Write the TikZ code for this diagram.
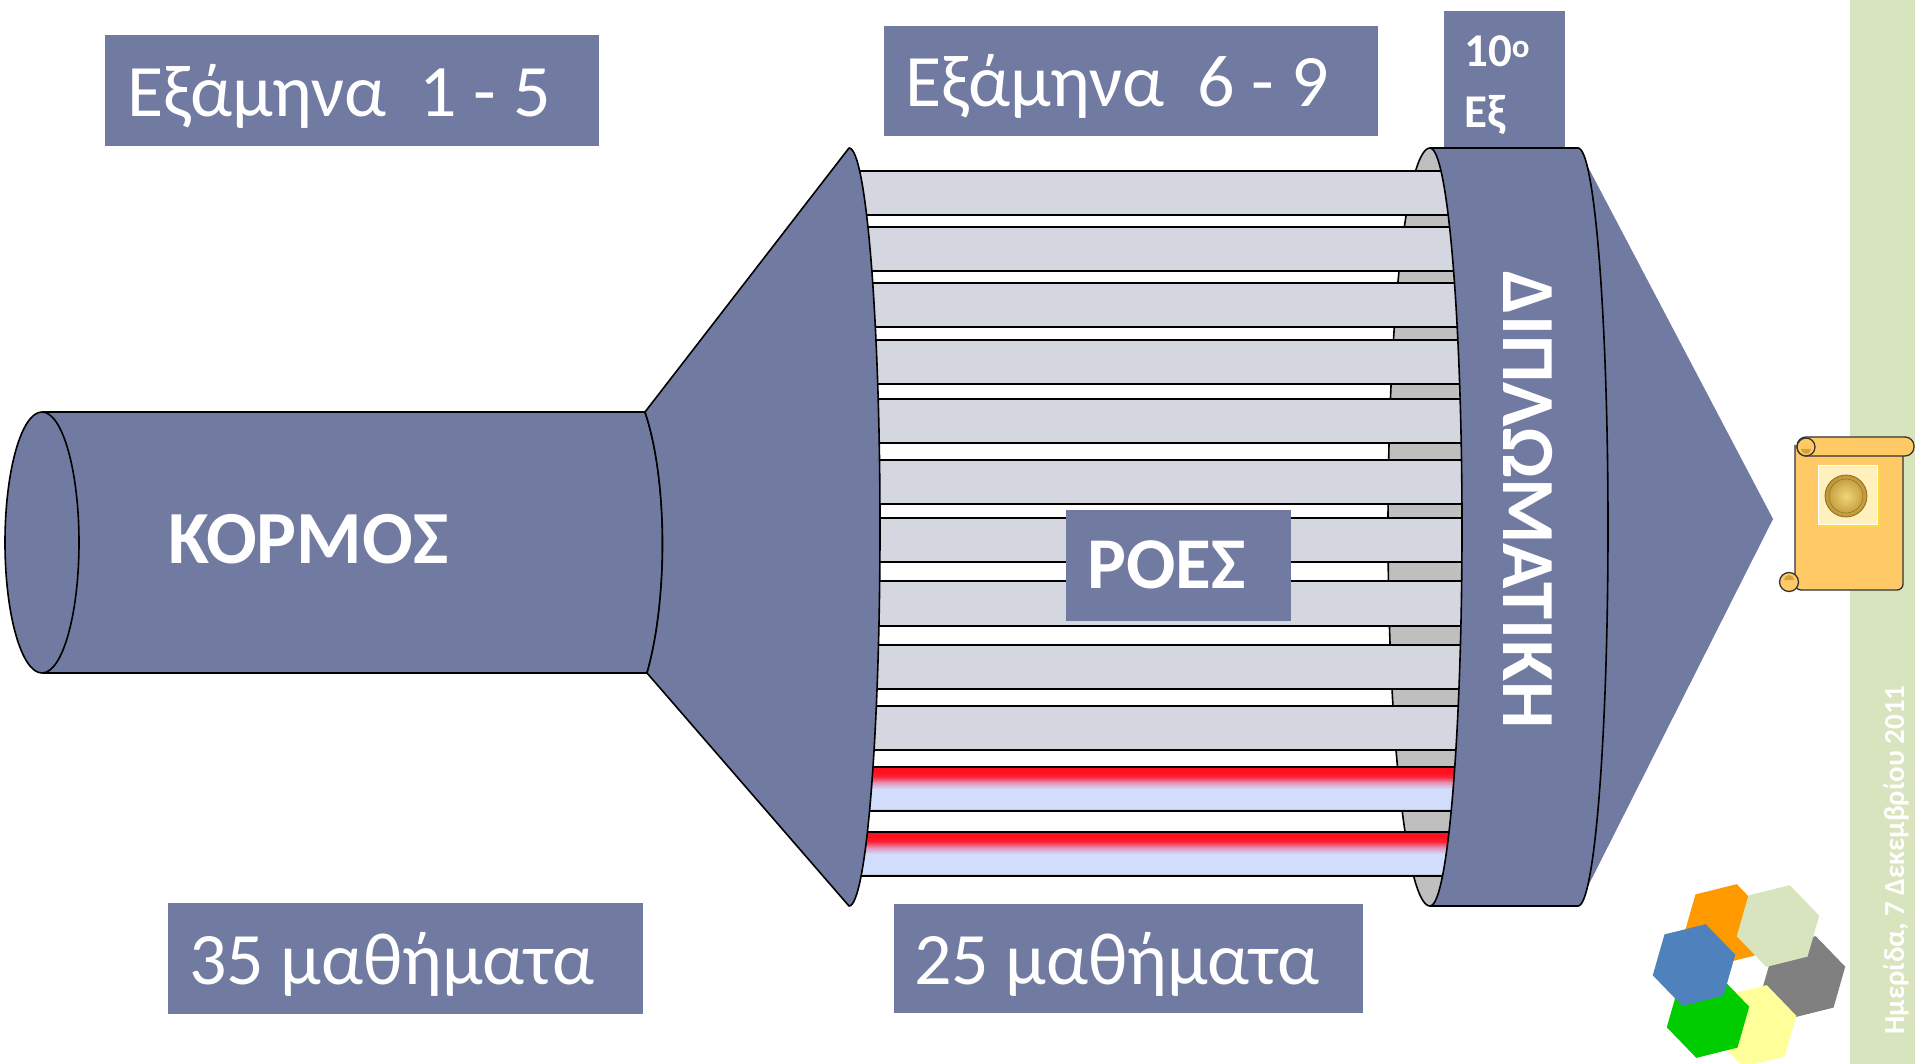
\documentclass[tikz,border=0pt]{standalone}
\usepackage{fontspec}
\setmainfont{Carlito}
\usetikzlibrary{shapes.geometric}

\definecolor{slate}{RGB}{113,122,161}
\definecolor{stripfill}{RGB}{212,215,224}
\definecolor{ringback}{RGB}{191,191,191}
\definecolor{sidebar}{RGB}{215,228,189}
\definecolor{scrollfill}{RGB}{255,201,102}
\definecolor{scrolldark}{RGB}{214,160,60}
\definecolor{coinpaper}{RGB}{255,240,190}
\definecolor{coinlight}{RGB}{240,214,120}
\definecolor{coindark}{RGB}{190,148,52}
\definecolor{hexorange}{RGB}{255,153,0}
\definecolor{hexlight}{RGB}{215,228,189}
\definecolor{hexblue}{RGB}{79,129,189}
\definecolor{hexgray}{RGB}{128,128,128}
\definecolor{hexgreen}{RGB}{0,204,0}
\definecolor{hexyellow}{RGB}{255,255,153}
\definecolor{flowred}{RGB}{255,16,32}
\definecolor{flowblue}{RGB}{209,221,250}
\definecolor{flowpink}{RGB}{226,150,188}
\definecolor{flowedge}{RGB}{168,182,186}

% red-to-blue shading of the two highlighted flows; TikZ fits the path into
% the middle band 25bp..75bp, so the stops are placed inside that band
\pgfdeclareverticalshading{redflow}{100bp}{color(0bp)=(flowedge); color(25bp)=(flowedge); color(28.5bp)=(flowblue); color(50bp)=(flowblue); color(57bp)=(flowpink); color(64bp)=(flowred!85!flowpink); color(69bp)=(flowred); color(100bp)=(flowred)}

\tikzset{
  outline/.style={draw=black, line width=1.6pt, line join=round},
  slateshape/.style={outline, fill=slate},
  flowstrip/.style={outline, fill=stripfill},
  redstrip/.style={outline, shading=redflow},
  labelbox/.style={fill=slate},
  plaintext/.style={text=white, inner sep=0pt, font=\fontsize{74}{88}\selectfont},
  boldtext/.style={text=white, inner sep=0pt, font=\bfseries\fontsize{73}{86}\selectfont},
  bigbold/.style={text=white, inner sep=0pt, font=\bfseries\fontsize{75}{88}\selectfont},
  smallbold/.style={text=white, inner sep=0pt, font=\bfseries\fontsize{47}{56}\selectfont},
  datetext/.style={text=white, inner sep=0pt, font=\bfseries\fontsize{29}{34}\selectfont},
  hexa/.style={regular polygon, regular polygon sides=6, minimum size=85pt, inner sep=0pt, rotate=14, draw=none},
  scrollline/.style={draw=black!80, line width=1.3pt, line join=round},
}

\begin{document}
\begin{tikzpicture}[x=1pt, y=-1pt]
\useasboundingbox (0,0) rectangle (1915,1064);
\fill[white] (0,0) rectangle (1915,1064);

% side bar
\fill[sidebar] (1850,0) rectangle (1915,1064);

% trunk cylinder
\draw[slateshape] (43,412) -- (645,412) .. controls (668,480) and (668,600) .. (647,673) -- (43,673) -- cycle;
\draw[slateshape] (42,542.5) ellipse[x radius=37, y radius=130.5];

% inner back rim of the diploma ring
\draw[outline, fill=ringback] (1430,527) ellipse[x radius=42, y radius=379];

% parallel flows
\foreach \t/\b in {171/215, 227/271, 283/327, 340/384, 399/443, 460/504, 518/562, 581/626, 645/689, 706/750} {
  \draw[flowstrip] (845,\t) rectangle (1480,\b);
}
\foreach \t/\b in {767/811, 832/876} {
  \draw[redstrip] (845,\t) rectangle (1480,\b);
}

% funnel widening from the trunk
\draw[slateshape] (645,412) -- (849,148) arc[start angle=-90, end angle=90, x radius=31, y radius=379]
  -- (647,673) .. controls (668,600) and (668,480) .. (645,412) -- cycle;

% arrow head and diploma ring
\fill[slate] (1578,148) -- (1773,519) -- (1578,906) -- cycle;
\draw[slateshape] (1430,148) -- (1578,148) arc[start angle=-90, end angle=90, x radius=30, y radius=379]
  -- (1430,906) arc[start angle=90, end angle=-90, x radius=32, y radius=379] -- cycle;

% labels
\fill[labelbox] (105,35) rectangle (599,146);
\node[plaintext, anchor=base west] (sem15) at (127,117) {Εξάμηνα\ \ 1 - 5};

\fill[labelbox] (884,26) rectangle (1378,136);
\node[plaintext, anchor=base west] (sem69) at (905,107) {Εξάμηνα\ \ 6 - 9};

\fill[labelbox] (1444,11) rectangle (1565,147);
\node[smallbold, anchor=base west] (sem10a) at (1464,67) {10\textsuperscript{ο}};
\node[smallbold, anchor=base west] (sem10b) at (1464,128) {Εξ};

\node[bigbold, anchor=base west] (kormos) at (168,563) {ΚΟΡΜΟΣ};

\fill[labelbox] (1066,510) rectangle (1291,621);
\node[boldtext, anchor=base west] (roes) at (1087,588) {ΡΟΕΣ};

\node[bigbold, rotate=-90] (diplo) at (1528,500) {ΔΙΠΛΩΜΑΤΙΚΗ};

\fill[labelbox] (168,903) rectangle (643,1014);
\node[plaintext, anchor=base west] (les35) at (189,984) {35 μαθήματα};

\fill[labelbox] (894,904) rectangle (1363,1013);
\node[plaintext, anchor=base west] (les25) at (914,984) {25 μαθήματα};

% diploma scroll
\draw[scrollline, fill=scrollfill, rounded corners=6] (1795,445) -- (1795,590) -- (1903,590) -- (1903,450);
\draw[scrollline, fill=scrollfill, rounded corners=9] (1797,437) rectangle (1914,456);
\draw[scrollline, fill=scrollfill] (1806,447) circle[radius=9];
\fill[scrolldark] (1801,449) arc[start angle=180, end angle=0, radius=5] -- cycle;
\draw[scrollline, fill=scrollfill] (1789,582) circle[radius=9.5];
\fill[scrolldark] (1784,580) arc[start angle=180, end angle=360, radius=5] -- cycle;
\fill[yellow!40!scrollfill] (1820,468) rectangle (1880,527);
\draw[white, line width=1pt, fill=coinpaper] (1818,466) rectangle (1877,524);
\shade[inner color=coinlight, outer color=coindark] (1846,496) circle[radius=21];
\draw[coindark!75!black, line width=0.8pt] (1846,496) circle[radius=21];
\draw[coindark!75!black, line width=0.5pt] (1846,496) circle[radius=17];

% hexagon logo
\node[hexa, fill=hexorange] (hexo) at (1725,925) {};
\node[hexa, fill=hexgray] (hexg) at (1804,977) {};
\node[hexa, fill=hexyellow] (hexy) at (1755,1026) {};
\node[hexa, fill=hexgreen] (hexgr) at (1708,1017) {};
\node[hexa, fill=hexblue] (hexb) at (1694,965) {};
\node[hexa, fill=hexlight] (hexl) at (1778,926) {};

% date on the side bar
\node[datetext, rotate=90] (date) at (1896,860) {Ημερίδα, 7 Δεκεμβρίου 2011};
\end{tikzpicture}
\end{document}
